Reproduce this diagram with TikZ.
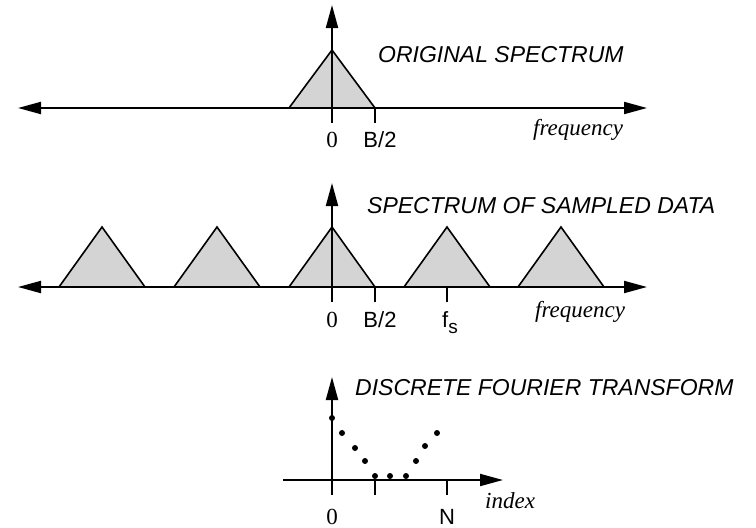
\documentclass[tikz,border=0pt]{standalone}
\usepackage{fontspec}
\setmainfont{Liberation Serif}
\setsansfont{Liberation Sans}
\usetikzlibrary{arrows.meta}
\tikzset{
  axis/.style={line width=2pt,-{Triangle[length=23pt,width=12pt]}},
  axisboth/.style={line width=2pt,{Triangle[length=23pt,width=12pt]}-{Triangle[length=23pt,width=12pt]}},
  tick/.style={line width=2pt},
  lobe/.style={draw=black,line width=1.6pt,fill=black!17,line join=miter},
  title/.style={inner sep=0pt,anchor=base west,font=\sffamily\itshape\fontsize{23}{23}\selectfont},
  axlabel/.style={inner sep=0pt,anchor=base west,font=\rmfamily\itshape\fontsize{23}{23}\selectfont},
  num/.style={inner sep=0pt,anchor=base,font=\rmfamily\fontsize{23}{23}\selectfont},
  sym/.style={inner sep=0pt,anchor=base,font=\sffamily\fontsize{22}{22}\selectfont},
  dot/.style={circle,fill=black,inner sep=0pt,minimum size=6pt}
}
\begin{document}
\begin{tikzpicture}[x=1pt,y=-1pt]
\useasboundingbox (0,0) rectangle (756,528);
% ---------- top panel ----------
\coordinate (tL) at (18,108);
\coordinate (tR) at (647,108);
\coordinate (tO) at (332,108);
\coordinate (tY) at (332,5);
\coordinate (tB) at (375,108);
\coordinate (tBd) at (375,123);
\coordinate (tOd) at (332,123);
\filldraw[lobe] (289,108) -- (332,50) -- (375,108) -- cycle;
\draw[axisboth] (tL) -- (tR);
\draw[axis] (tO) -- (tY);
\draw[tick] (tO) -- (tOd);
\draw[tick] (tB) -- (tBd);
\node[num] (t0) at (332,147) {0};
\node[sym] (tB2) at (380,147) {B/2};
\node[axlabel] (tfreq) at (533,135) {frequency};
\node[title] (ttitle) at (378,62) {ORIGINAL SPECTRUM};
% ---------- middle panel ----------
\coordinate (mL) at (18,287);
\coordinate (mR) at (647,287);
\coordinate (mO) at (332,287);
\coordinate (mY) at (332,183);
\coordinate (mB) at (375,287);
\coordinate (mF) at (447,287);
\coordinate (mOd) at (332,302);
\coordinate (mBd) at (375,302);
\coordinate (mFd) at (447,302);
\foreach \c in {102,217,332,447,561}{
  \filldraw[lobe] (\c-43,287) -- (\c,227) -- (\c+43,287) -- cycle;
}
\draw[axisboth] (mL) -- (mR);
\draw[axis] (mO) -- (mY);
\draw[tick] (mO) -- (mOd);
\draw[tick] (mB) -- (mBd);
\draw[tick] (mF) -- (mFd);
\node[num] (m0) at (332,327) {0};
\node[sym] (mB2) at (380,327) {B/2};
\node[sym,anchor=base west] (mfs) at (442,327) {f\raisebox{-6pt}{\fontsize{19}{19}\selectfont s}};
\node[axlabel] (mfreq) at (535,317) {frequency};
\node[title] (mtitle) at (367,213) {SPECTRUM OF SAMPLED DATA};
% ---------- bottom panel ----------
\coordinate (bL) at (283,480);
\coordinate (bR) at (503,480);
\coordinate (bOd) at (332,495);
\coordinate (bY) at (332,377);
\coordinate (bT1) at (375,480);
\coordinate (bT1d) at (375,495);
\coordinate (bN) at (447,480);
\coordinate (bNd) at (447,495);
\draw[axis] (bL) -- (bR);
\draw[axis] (bOd) -- (bY);
\draw[tick] (bT1) -- (bT1d);
\draw[tick] (bN) -- (bNd);
\node[dot] (d1) at (332,418) {};
\node[dot] (d2) at (342,433) {};
\node[dot] (d3) at (355,448) {};
\node[dot] (d4) at (365,461) {};
\node[dot] (d5) at (375,476) {};
\node[dot] (d6) at (390,476) {};
\node[dot] (d7) at (406,476) {};
\node[dot] (d8) at (416,461) {};
\node[dot] (d9) at (425,446) {};
\node[dot] (d10) at (437,433) {};
\node[num] (b0) at (332,524) {0};
\node[sym] (bNl) at (447,524) {N};
\node[axlabel] (bidx) at (485,508) {index};
\node[title] (btitle) at (355,395) {DISCRETE FOURIER TRANSFORM};
\end{tikzpicture}
\end{document}
